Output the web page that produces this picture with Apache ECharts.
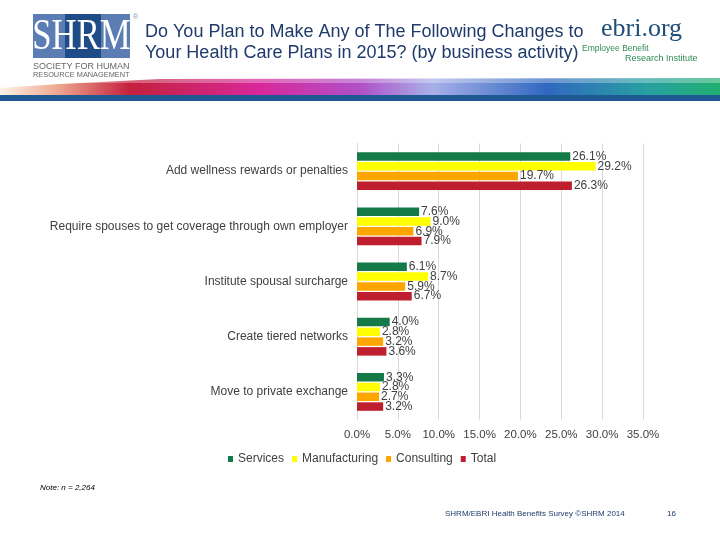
<!DOCTYPE html>
<html><head><meta charset="utf-8">
<script src="https://cdn.jsdelivr.net/npm/echarts@6/dist/echarts.min.js"></script>
<style>html,body{margin:0;padding:0;background:#fff}#c{width:720px;height:540px}</style>
</head><body><div id="c"></div>
<script>
const categories = ["Add wellness rewards or penalties","Require spouses to get coverage through own employer","Institute spousal surcharge","Create tiered networks","Move to private exchange"];
const seriesNames = ["Services","Manufacturing","Consulting","Total"];
const services = [26.1, 7.6, 6.1, 4.0, 3.3];
const manufacturing = [29.2, 9.0, 8.7, 2.8, 2.8];
const consulting = [19.7, 6.9, 5.9, 3.2, 2.7];
const total = [26.3, 7.9, 6.7, 3.6, 3.2];
const colors = ["#147a47", "#ffff00", "#ffa500", "#be1e2d"];
const xTicks = {min:0, max:35, interval:5};

const chart = echarts.init(document.getElementById('c'));
const txt = '#404040';
const font = 'Liberation Sans, Arial, sans-serif';
const mk = (name, data, i) => ({
  name, type:'bar', data, barWidth:8.5, barGap:'15%',
  itemStyle:{color:colors[i]},
  label:{show:true, position:'right', distance:2, color:txt, fontSize:12, fontFamily:font,
    formatter:p=>p.value.toFixed(1)+'%'}
});
chart.setOption({
  animation:false,
  textStyle:{fontFamily:font},
  grid:{left:357, right:77, top:143.5, bottom:120.5, containLabel:false},
  xAxis:{type:'value', min:xTicks.min, max:xTicks.max, interval:xTicks.interval,
    axisLine:{show:false}, axisTick:{show:false},
    splitLine:{lineStyle:{color:'#d9d9d9'}},
    axisLabel:{color:txt, fontSize:11.5, margin:9, formatter:v=>v.toFixed(1)+'%'}},
  yAxis:{type:'category', inverse:true, data:categories,
    axisLine:{lineStyle:{color:'#d9d9d9'}}, axisTick:{show:false},
    axisLabel:{color:txt, fontSize:12, margin:9}},
  legend:{left:223, top:448, itemWidth:5, itemHeight:6, itemGap:8, icon:'rect',
    textStyle:{color:txt, fontSize:12}, data:seriesNames},
  series:[mk(seriesNames[0],services,0), mk(seriesNames[1],manufacturing,1), mk(seriesNames[2],consulting,2), mk(seriesNames[3],total,3)],
  graphic:[
    // swoosh band
    {type:'polygon', shape:{points:[[0,96],[0,88],[60,84],[160,79],[720,78],[720,96]]},
      style:{fill:new echarts.graphic.LinearGradient(0,0,1,0,[
        {offset:0,color:'#fff3e6'},{offset:0.08,color:'#eea890'},{offset:0.18,color:'#c4203c'},
        {offset:0.36,color:'#d8289a'},{offset:0.5,color:'#b050c8'},{offset:0.6,color:'#a8b0e8'},
        {offset:0.76,color:'#3068c0'},{offset:0.9,color:'#28a0a0'},{offset:1,color:'#20b070'}])}},
    {type:'rect', shape:{x:0,y:78,width:720,height:5}, style:{fill:'rgba(255,255,255,0.3)'}},
    {type:'rect', shape:{x:0,y:95,width:720,height:6}, style:{fill:'#1d5a94'}},
    // SHRM logo
    {type:'rect', shape:{x:33,y:14,width:97,height:44}, style:{fill:'#5b7db3'}},
    {type:'rect', shape:{x:65,y:14,width:36,height:44}, style:{fill:'#1f4b87'}},
    {type:'text', x:81.5, y:37, scaleX:0.79, originX:0, originY:0, style:{text:'SHRM', fill:'#ffffff', font:'44px Liberation Serif, serif', align:'center', verticalAlign:'middle'}},
    {type:'text', x:133, y:14, style:{text:'®', fill:'#7a8fb5', font:'7px Liberation Sans', align:'left'}},
    {type:'text', x:33, y:62, style:{text:'SOCIETY FOR HUMAN', fill:'#666', font:'9px Liberation Sans Narrow, Liberation Sans', align:'left'}},
    {type:'text', x:33, y:71, scaleX:0.92, originX:0, originY:0, style:{text:'RESOURCE MANAGEMENT', fill:'#666', font:'8px Liberation Sans Narrow, Liberation Sans', align:'left'}},
    // title
    {type:'text', x:145, y:23, style:{text:'Do You Plan to Make Any of The Following Changes to', fill:'#1f3a6b', font:'18px Liberation Sans, Arial', align:'left'}},
    {type:'text', x:145, y:44, style:{text:'Your Health Care Plans in 2015? (by business activity)', fill:'#1f3a6b', font:'18px Liberation Sans, Arial', align:'left'}},
    // ebri logo
    {type:'rect', shape:{x:597,y:14,width:110,height:30}, style:{fill:'#ffffff'}},
    {type:'text', x:601, y:16, style:{text:'ebri.org', fill:'#1f4e79', font:'26px Liberation Serif, serif', align:'left'}},
    {type:'rect', shape:{x:580,y:44,width:120,height:20}, style:{fill:'#ffffff'}},
    {type:'text', x:582, y:44, style:{text:'Employee Benefit', fill:'#2e8b57', font:'8.5px Liberation Sans Narrow, Liberation Sans', align:'left'}},
    {type:'text', x:625, y:54, style:{text:'Research Institute', fill:'#2e8b57', font:'9px Liberation Sans', align:'left'}},
    // notes
    {type:'text', x:40, y:484, style:{text:'Note: n = 2,264', fill:'#000', font:'italic 8px Liberation Sans', align:'left'}},
    {type:'text', x:445, y:510, style:{text:'SHRM/EBRI Health Benefits Survey ©SHRM 2014', fill:'#1f3a6b', font:'8px Liberation Sans', align:'left'}},
    {type:'text', x:667, y:510, style:{text:'16', fill:'#1f3a6b', font:'8px Liberation Sans', align:'left'}}
  ]
});
</script></body></html>
